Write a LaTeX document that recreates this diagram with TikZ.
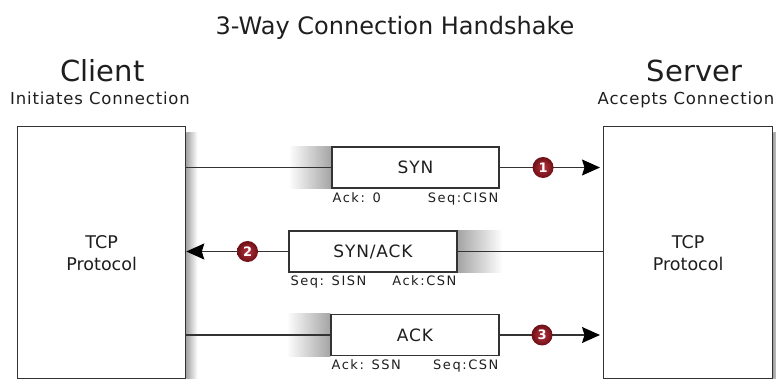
\documentclass[tikz,border=0pt]{standalone}
\usepackage{fontspec}
\setmainfont{DejaVu Sans}
\newfontfamily\medsp[LetterSpace=5]{DejaVu Sans}
\newfontfamily\widesp[LetterSpace=12]{DejaVu Sans}
\usetikzlibrary{arrows.meta,backgrounds}
\definecolor{ink}{HTML}{1E1E1E}
\definecolor{edge}{HTML}{333333}
\definecolor{shadowgray}{HTML}{A4A4A4}
\definecolor{badgered}{HTML}{6E0F16}
\definecolor{badgelight}{HTML}{B8343F}
\tikzset{
  bigbox/.style={draw=edge, fill=white, line width=1.3pt, minimum width=168pt, minimum height=252pt, anchor=north west, align=center, text=ink, font=\fontsize{17.5}{22}\selectfont, inner sep=0pt},
  msgbox/.style={draw=edge, fill=white, line width=1.3pt, minimum height=41pt, text=ink, font=\medsp\fontsize{17}{20}\selectfont, inner sep=0pt},
  lbl/.style={text=ink, font=\widesp\fontsize{13}{15}\selectfont, inner sep=0pt},
  conn/.style={draw=edge, line width=1.2pt},
  arr/.style={-{Stealth[length=18pt,width=16pt,inset=2.5pt,color=black]}},
  badgeball/.style={inner color=badgelight, outer color=badgered},
  badgetxt/.style={inner sep=0pt, text=white, font=\bfseries\fontsize{13}{14}\selectfont},
  lshade/.style={left color=white, right color=shadowgray},
  rshade/.style={left color=shadowgray, right color=white},
}
\begin{document}
\begin{tikzpicture}[x=1pt,y=-1pt]
\useasboundingbox (0,0) rectangle (776,379);
% titles
\node[anchor=base, text=ink, font=\fontsize{24}{28}\selectfont] (title) at (395,35) {3-Way Connection Handshake};
\node[anchor=base, text=ink, font=\fontsize{29}{32}\selectfont] (client) at (102.5,82) {Client};
\node[anchor=base, text=ink, font=\medsp\fontsize{16.5}{20}\selectfont] (clientsub) at (100,105) {Initiates Connection};
\node[anchor=base, text=ink, font=\fontsize{29}{32}\selectfont] (server) at (694.5,82) {Server};
\node[anchor=base, text=ink, font=\medsp\fontsize{16.5}{20}\selectfont] (serversub) at (686,105) {Accepts Connection};
% big boxes
\node[bigbox] (cbox) at (17,126) {TCP\\Protocol};
\node[bigbox, minimum width=169pt] (sbox) at (603,126) {TCP\\Protocol};
% message boxes
\node[msgbox, minimum width=167pt] (syn) at (415.5,167.5) {SYN};
\node[msgbox, minimum width=168pt] (synack) at (373,251.5) {SYN/ACK};
\node[msgbox, minimum width=168pt] (ack) at (415,335) {ACK};
% labels under message boxes
\node[lbl, anchor=base west] (l1a) at ([shift={(1,14)}]syn.south west) {Ack: 0};
\node[lbl, anchor=base east] (l1b) at ([shift={(-1,14)}]syn.south east) {Seq:CISN};
\node[lbl, anchor=base west] (l2a) at ([shift={(2,13)}]synack.south west) {Seq: SISN};
\node[lbl, anchor=base east] (l2b) at ([shift={(-1,13)}]synack.south east) {Ack:CSN};
\node[lbl, anchor=base west] (l3a) at ([shift={(1,13)}]ack.south west) {Ack: SSN};
\node[lbl, anchor=base east] (l3b) at ([shift={(-1,13)}]ack.south east) {Seq:CSN};
\begin{pgfonlayer}{background}
% shadows
\shade[lshade] ([xshift=-43pt]syn.north west) rectangle (syn.south west);
\shade[rshade] (synack.north east) rectangle ([xshift=45pt]synack.south east);
\shade[lshade] ([xshift=-44pt]ack.north west) rectangle (ack.south west);
\shade[rshade] ([yshift=-7pt]cbox.north east) rectangle ([xshift=11pt]cbox.south east);
\shade[rshade] ([yshift=-7pt]sbox.north east) rectangle ([xshift=8pt]sbox.south east);
% connectors
\draw[conn] (cbox.east |- syn.west) -- (syn.west);
\draw[conn, arr, shorten >=3pt] (syn.east) -- coordinate[pos=0.42] (b1) (sbox.west |- syn.east);
\draw[conn] (sbox.west |- synack.east) -- (synack.east);
\draw[conn, arr] (synack.west) -- coordinate[pos=0.40] (b2) (cbox.east |- synack.west);
\draw[conn] (cbox.east |- ack.west) -- (ack.west);
\draw[conn, arr, shorten >=3pt] (ack.east) -- coordinate[pos=0.41] (b3) (sbox.west |- ack.east);
\end{pgfonlayer}
% badges
\shade[badgeball] (b1) circle[radius=10.5pt];
\shade[badgeball] (b2) circle[radius=10.5pt];
\shade[badgeball] (b3) circle[radius=10.5pt];
\node[badgetxt] (n1) at (b1) {1};
\node[badgetxt] (n2) at (b2) {2};
\node[badgetxt] (n3) at (b3) {3};
\end{tikzpicture}
\end{document}
